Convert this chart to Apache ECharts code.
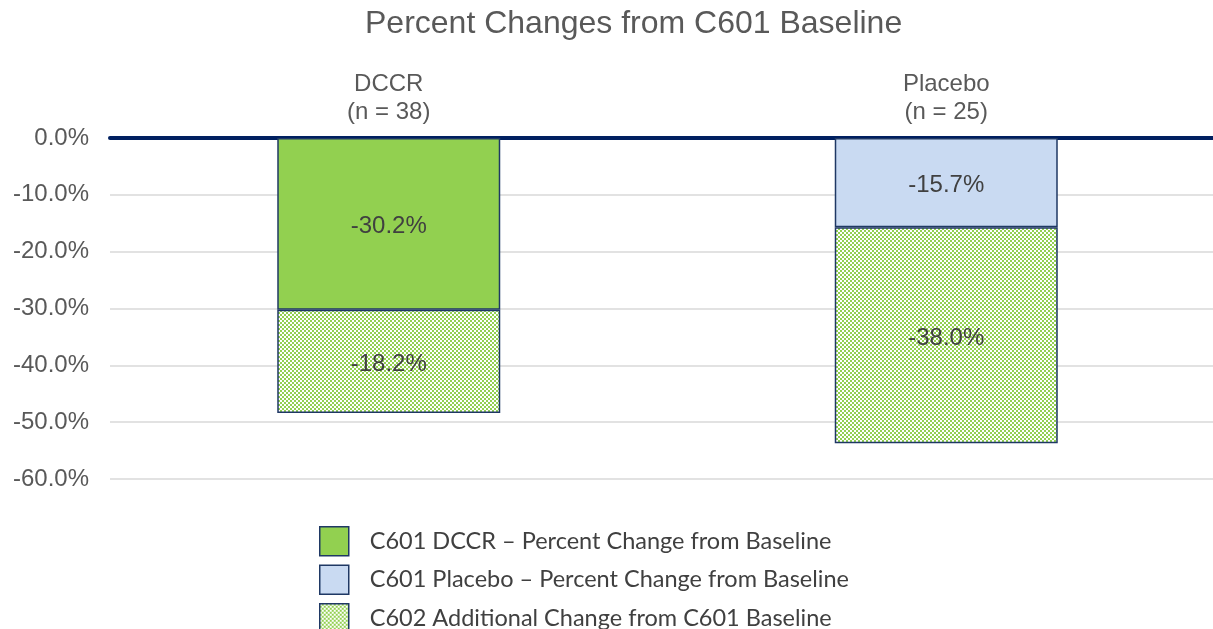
<!DOCTYPE html>
<html>
<head>
<meta charset="utf-8">
<script src="https://cdn.jsdelivr.net/npm/echarts@6/dist/echarts.min.js"></script>
<style>
  html, body { margin: 0; padding: 0; background: #fff; overflow: hidden; }
  #chart { width: 1225px; height: 629px; }
</style>
</head>
<body>
<div id="chart"></div>
<script>
// data
var categories = ['DCCR\n(n = 38)', 'Placebo\n(n = 25)'];
var dccrChange = [-30.2, '-'];
var placeboChange = ['-', -15.7];
var additionalChange = [-18.2, -38.0];
var seriesNames = [
  'C601 DCCR – Percent Change from Baseline',
  'C601 Placebo – Percent Change from Baseline',
  'C602 Additional Change from C601 Baseline'
];

// green checker fill for the C602 part
function makeChecker() {
  var c = document.createElement('canvas');
  c.width = 4; c.height = 4;
  var ctx = c.getContext('2d');
  ctx.fillStyle = '#92D050';
  ctx.fillRect(0, 0, 4, 4);
  ctx.fillStyle = '#ffffff';
  ctx.fillRect(0, 0, 2, 2);
  ctx.fillRect(2, 2, 2, 2);
  return c;
}

var chart = echarts.init(document.getElementById('chart'));
var barLabel = {
  show: true,
  position: 'inside',
  offset: [0, 3],
  color: '#404040',
  fontFamily: 'Arial',
  fontSize: 24,
  formatter: function (p) { return p.value.toFixed(1) + '%'; }
};
var border = { borderColor: '#1F3864', borderWidth: 1.5 };

chart.setOption({
  animation: false,
  title: {
    text: 'Percent Changes from C601 Baseline',
    left: 365,
    top: 8,
    padding: 0,
    textStyle: { color: '#595959', fontFamily: 'Arial', fontSize: 32, fontWeight: 'normal' }
  },
  legend: {
    orient: 'vertical',
    left: 319,
    top: 526,
    height: 200,
    padding: 0,
    icon: 'rect',
    itemWidth: 29,
    itemHeight: 29,
    itemGap: 8,
    itemStyle: { borderColor: '#1F3864', borderWidth: 1.5 },
    textStyle: { color: '#404040', fontFamily: 'Lato', fontSize: 23.5, padding: [0, 0, 0, 16] },
    data: seriesNames
  },
  grid: { left: 110, right: 0, top: 138, bottom: 150, containLabel: false },
  xAxis: {
    type: 'category',
    position: 'top',
    data: categories,
    axisLine: { show: true, lineStyle: { color: '#002060', width: 4 } },
    axisTick: { show: false },
    axisLabel: { color: '#595959', fontFamily: 'Arial', fontSize: 24, lineHeight: 28, margin: 12 }
  },
  yAxis: {
    type: 'value',
    min: -60,
    max: 0,
    interval: 10,
    axisLine: { show: false },
    axisTick: { show: false },
    splitLine: { lineStyle: { color: '#D9D9D9', width: 1.5 } },
    axisLabel: {
      color: '#595959', fontFamily: 'Arial', fontSize: 24, margin: 21,
      formatter: function (v) { return v.toFixed(1) + '%'; }
    }
  },
  series: [
    {
      name: seriesNames[0], type: 'bar', stack: 'total', barWidth: '40%',
      data: dccrChange,
      itemStyle: Object.assign({ color: '#92D050' }, border),
      label: barLabel
    },
    {
      name: seriesNames[1], type: 'bar', stack: 'total', barWidth: '40%',
      data: placeboChange,
      itemStyle: Object.assign({ color: '#C9DAF2' }, border),
      label: barLabel
    },
    {
      name: seriesNames[2], type: 'bar', stack: 'total', barWidth: '40%',
      data: additionalChange,
      itemStyle: Object.assign({ color: { image: makeChecker(), repeat: 'repeat' } }, border),
      label: barLabel
    }
  ]
});
</script>
</body>
</html>
